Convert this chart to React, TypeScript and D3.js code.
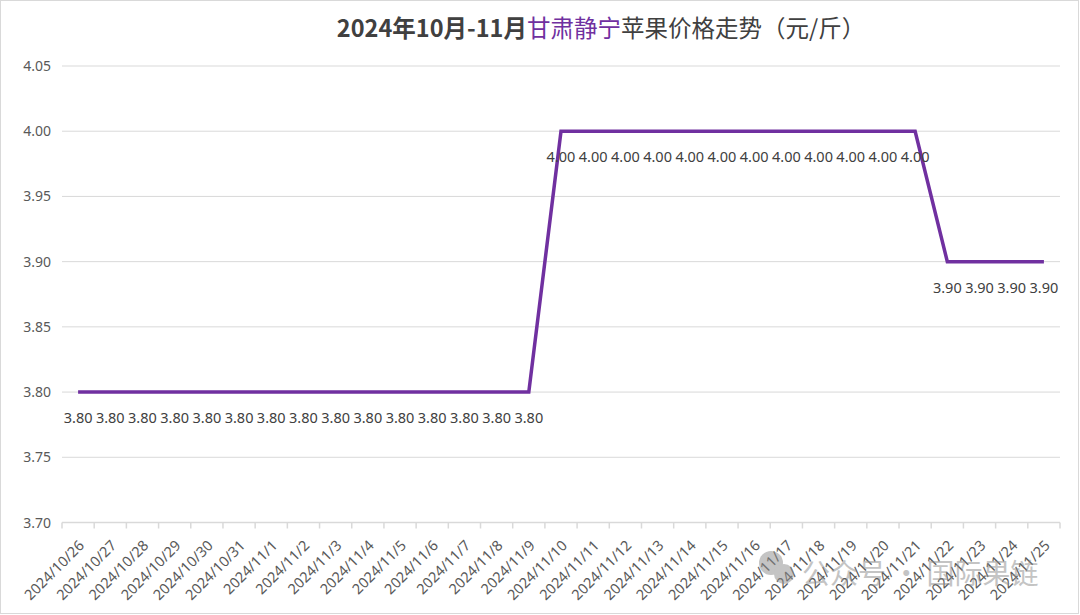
import React from "react";
import * as d3 from "d3";

const categories: string[] = [
  "2024/10/26", "2024/10/27", "2024/10/28", "2024/10/29", "2024/10/30", "2024/10/31",
  "2024/11/1", "2024/11/2", "2024/11/3", "2024/11/4", "2024/11/5", "2024/11/6",
  "2024/11/7", "2024/11/8", "2024/11/9", "2024/11/10", "2024/11/11", "2024/11/12",
  "2024/11/13", "2024/11/14", "2024/11/15", "2024/11/16", "2024/11/17", "2024/11/18",
  "2024/11/19", "2024/11/20", "2024/11/21", "2024/11/22", "2024/11/23", "2024/11/24",
  "2024/11/25",
];
const prices: number[] = [
  3.8, 3.8, 3.8, 3.8, 3.8, 3.8, 3.8, 3.8, 3.8, 3.8, 3.8, 3.8, 3.8, 3.8, 3.8,
  4.0, 4.0, 4.0, 4.0, 4.0, 4.0, 4.0, 4.0, 4.0, 4.0, 4.0, 4.0,
  3.9, 3.9, 3.9, 3.9,
];
const yTicks: number[] = [3.7, 3.75, 3.8, 3.85, 3.9, 3.95, 4.0, 4.05];

const W = 1080;
const H = 615;
const PURPLE = "#7030A0";
const TEXT = "#595959";
const GRID = "#d9d9d9";
const SANS = "'Noto Sans', 'Open Sans', sans-serif";
const CJK = "'Noto Sans CJK SC', sans-serif";

export default function App() {
  const x = d3.scaleBand<string>().domain(categories).range([62, 1060]);
  const y = d3.scaleLinear().domain([3.7, 4.05]).range([522.5, 66]);
  const cx = (c: string) => (x(c) as number) + x.bandwidth() / 2;
  const line = d3
    .line<number>()
    .x((_, i) => cx(categories[i]))
    .y((d) => y(d));
  const last = categories[categories.length - 1];
  const xEnd = (x(last) as number) + x.bandwidth();

  return (
    <svg
      width={W}
      height={H}
      style={{ position: "absolute", left: 0, top: 0, background: "#fff" }}
    >
      <rect x={0.5} y={0.5} width={W - 2} height={H - 2} fill="#fff" stroke="#d9d9d9" />
      {/* title */}
      <text x={601} y={37} textAnchor="middle" fontSize={23.5} fill="#404040" fontFamily={CJK}>
        <tspan fontWeight="bold">2024年10月-11月</tspan>
        <tspan fill={PURPLE}>甘肃静宁</tspan>
        <tspan>苹果价格走势（元/斤）</tspan>
      </text>
      {/* grid */}
      {yTicks.map((t) =>
        t > 3.7 ? (
          <line key={"g" + t} x1={62} x2={1060} y1={y(t)} y2={y(t)} stroke={GRID} strokeWidth={1} />
        ) : null
      )}
      {yTicks.map((t) => (
        <text
          key={"yl" + t}
          x={51}
          y={y(t)}
          dy="0.36em"
          textAnchor="end"
          fontSize={14}
          fill={TEXT}
          fontFamily={SANS}
        >
          {t.toFixed(2)}
        </text>
      ))}
      {/* x axis */}
      <line x1={62} x2={xEnd} y1={y(3.7)} y2={y(3.7)} stroke={GRID} strokeWidth={1.5} />
      {categories.map((c) => (
        <line
          key={"t" + c}
          x1={x(c) as number}
          x2={x(c) as number}
          y1={y(3.7)}
          y2={y(3.7) + 6}
          stroke={GRID}
          strokeWidth={1.5}
        />
      ))}
      <line x1={xEnd} x2={xEnd} y1={y(3.7)} y2={y(3.7) + 6} stroke={GRID} strokeWidth={1.5} />
      {categories.map((c) => (
        <text
          key={"xl" + c}
          transform={`translate(${cx(c) + 7},${y(3.7) + 24}) rotate(-45)`}
          textAnchor="end"
          fontSize={14.5}
          fill={TEXT}
          fontFamily={SANS}
        >
          {c}
        </text>
      ))}
      {/* line */}
      <path d={line(prices) || ""} fill="none" stroke={PURPLE} strokeWidth={3.5} strokeLinejoin="miter" />
      {/* data labels */}
      {prices.map((v, i) => (
        <text
          key={"dl" + i}
          x={cx(categories[i])}
          y={y(v) + 31}
          textAnchor="middle"
          fontSize={14.5}
          fill="#404040"
          fontFamily={SANS}
        >
          {v.toFixed(2)}
        </text>
      ))}
      {/* watermark */}
      <g opacity={0.5}>
        <circle cx={771} cy={563} r={12} fill="#8a8a8a" />
        <circle cx={784} cy={574} r={10} fill="#8a8a8a" />
        <text x={802} y={584} fontSize={28} fill="#8a8a8a" fontFamily={CJK}>
          公众号 · 国际果链
        </text>
      </g>
    </svg>
  );
}
